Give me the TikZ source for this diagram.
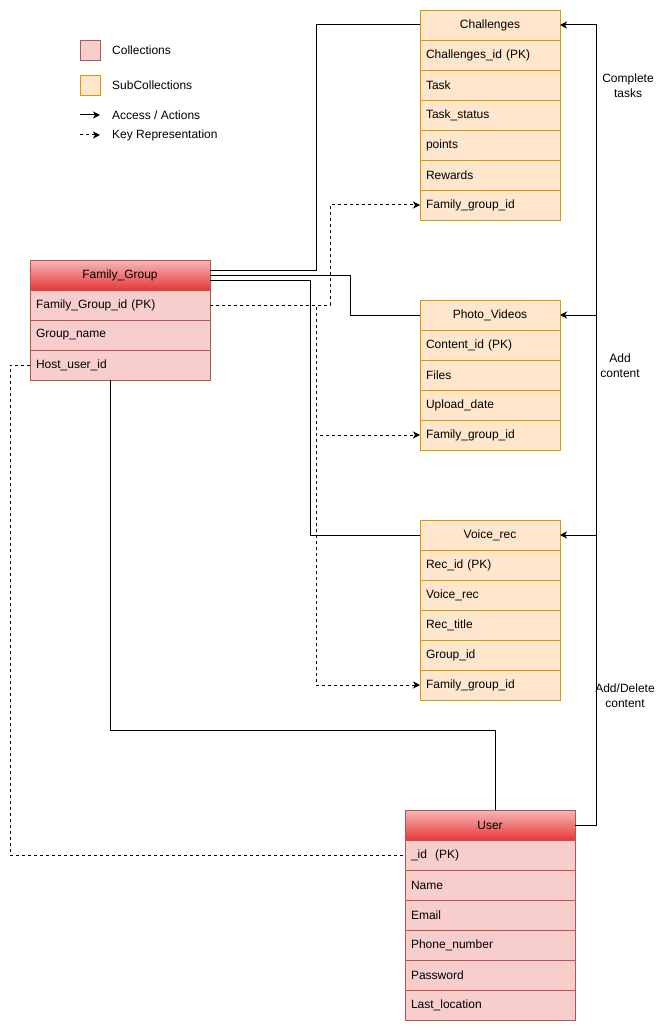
\documentclass[tikz,border=0pt]{standalone}
\usepackage{fontspec}
\setmainfont{Liberation Sans}
\usetikzlibrary{arrows.meta,calc}
\definecolor{colfill}{HTML}{F8CECC}
\definecolor{colline}{HTML}{B85450}
\definecolor{coltop}{HTML}{F6B8B8}
\definecolor{colbot}{HTML}{E83838}
\definecolor{subfill}{HTML}{FFE6CC}
\definecolor{subline}{HTML}{D79B00}
\begin{document}
\begin{tikzpicture}[x=1pt,y=-1pt,
  font=\fontsize{12}{15}\selectfont,
  colhead/.style={anchor=north west, minimum width=#1, minimum height=30pt,
    inner sep=0pt, outer sep=0pt, draw=colline, top color=coltop, bottom color=colbot},
  colrow/.style={anchor=north west, text width=#1, minimum height=30pt,
    inner xsep=6pt, inner ysep=0pt, outer sep=0pt, align=left, draw=colline, fill=colfill},
  subhead/.style={anchor=north west, minimum width=140pt, minimum height=30pt,
    inner sep=0pt, outer sep=0pt, draw=subline, fill=subfill},
  subrow/.style={anchor=north west, text width=128pt, minimum height=30pt,
    inner xsep=6pt, inner ysep=0pt, outer sep=0pt, align=left, draw=subline, fill=subfill},
  tip/.style={-{Stealth[length=7pt,width=7pt,inset=2pt]}},
  link/.style={draw=black, line width=1pt},
  keyline/.style={draw=black, line width=1pt, dash pattern=on 3pt off 3pt},
  lbl/.style={inner sep=0pt, align=center}]
\useasboundingbox (0,0) rectangle (671,1032);

% legend
\node[draw=colline, fill=colfill, minimum size=20pt, inner sep=0pt] (lgc) at (90,50) {};
\node[lbl, anchor=west] (lgct) at (112,50) {Collections};
\node[draw=subline, fill=subfill, minimum size=20pt, inner sep=0pt] (lgs) at (90,85) {};
\node[lbl, anchor=west] (lgst) at (112,85) {SubCollections};
\coordinate (la1) at (80,115); \coordinate (la2) at (100,115);
\draw[link, tip] (la1) -- (la2);
\node[lbl, anchor=west] (lat) at (112,115) {Access / Actions};
\coordinate (lk1) at (80,135); \coordinate (lk2) at (100,135);
\draw[keyline, tip] (lk1) -- (lk2);
\node[lbl, anchor=west] (lkt) at (112,135) {Key Representation};

% Challenges
\node[subhead] (chh) at (420,10) {Challenges};
\node[subrow] (ch1) at (chh.south west) {Challenges\_id (PK)};
\node[subrow] (ch2) at (ch1.south west) {Task};
\node[subrow] (ch3) at (ch2.south west) {Task\_status};
\node[subrow] (ch4) at (ch3.south west) {points};
\node[subrow] (ch5) at (ch4.south west) {Rewards};
\node[subrow] (ch6) at (ch5.south west) {Family\_group\_id};

% Photo_Videos
\node[subhead] (pvh) at (420,300) {Photo\_Videos};
\node[subrow] (pv1) at (pvh.south west) {Content\_id (PK)};
\node[subrow] (pv2) at (pv1.south west) {Files};
\node[subrow] (pv3) at (pv2.south west) {Upload\_date};
\node[subrow] (pv4) at (pv3.south west) {Family\_group\_id};

% Voice_rec
\node[subhead] (vrh) at (420,520) {Voice\_rec};
\node[subrow] (vr1) at (vrh.south west) {Rec\_id (PK)};
\node[subrow] (vr2) at (vr1.south west) {Voice\_rec};
\node[subrow] (vr3) at (vr2.south west) {Rec\_title};
\node[subrow] (vr4) at (vr3.south west) {Group\_id};
\node[subrow] (vr5) at (vr4.south west) {Family\_group\_id};

% Family_Group
\node[colhead=180pt] (fgh) at (30,260) {Family\_Group};
\node[colrow=168pt] (fg1) at (fgh.south west) {Family\_Group\_id (PK)};
\node[colrow=168pt] (fg2) at (fg1.south west) {Group\_name};
\node[colrow=168pt] (fg3) at (fg2.south west) {Host\_user\_id};

% User
\node[colhead=170pt] (ush) at (405,810) {User};
\node[colrow=158pt] (us1) at (ush.south west) {\_id\ \ (PK)};
\node[colrow=158pt] (us2) at (us1.south west) {Name};
\node[colrow=158pt] (us3) at (us2.south west) {Email};
\node[colrow=158pt] (us4) at (us3.south west) {Phone\_number};
\node[colrow=158pt] (us5) at (us4.south west) {Password};
\node[colrow=158pt] (us6) at (us5.south west) {Last\_location};

% group to its subcollections
\draw[link] ($(fgh.east)+(0,-5)$) -- (316,270) |- (chh.west);
\draw[link] (fgh.east) -- (350,275) |- (pvh.west);
\draw[link] ($(fgh.east)+(0,5)$) -- (310,280) |- (vrh.west);

% group key references
\draw[keyline, tip] (fg1.east) -- (330,305) |- (ch6.west);
\draw[keyline, tip] (fg1.east) -- (316,305) |- (pv4.west);
\draw[keyline, tip] (fg1.east) -- (316,305) |- (vr5.west);
\draw[keyline] (fg3.west) -- (10,365) |- (us1.west);

% group to user
\draw[link] ($(fg3.south)+(-10,0)$) -- ++(0,350) -| ($(ush.north)+(5,0)$);

% user actions
\coordinate (bus) at (596,825);
\draw[link, tip] (ush.east) -- (bus) |- (chh.east);
\draw[link, tip] (bus |- pvh.east) -- (pvh.east);
\draw[link, tip] (bus |- vrh.east) -- (vrh.east);
\node[lbl] (t1) at (628,85.5) {Complete\\tasks};
\node[lbl] (t2) at (620,365.5) {Add\\content};
\node[lbl] (t3) at (625,695.5) {Add/Delete\\content};
\end{tikzpicture}
\end{document}
